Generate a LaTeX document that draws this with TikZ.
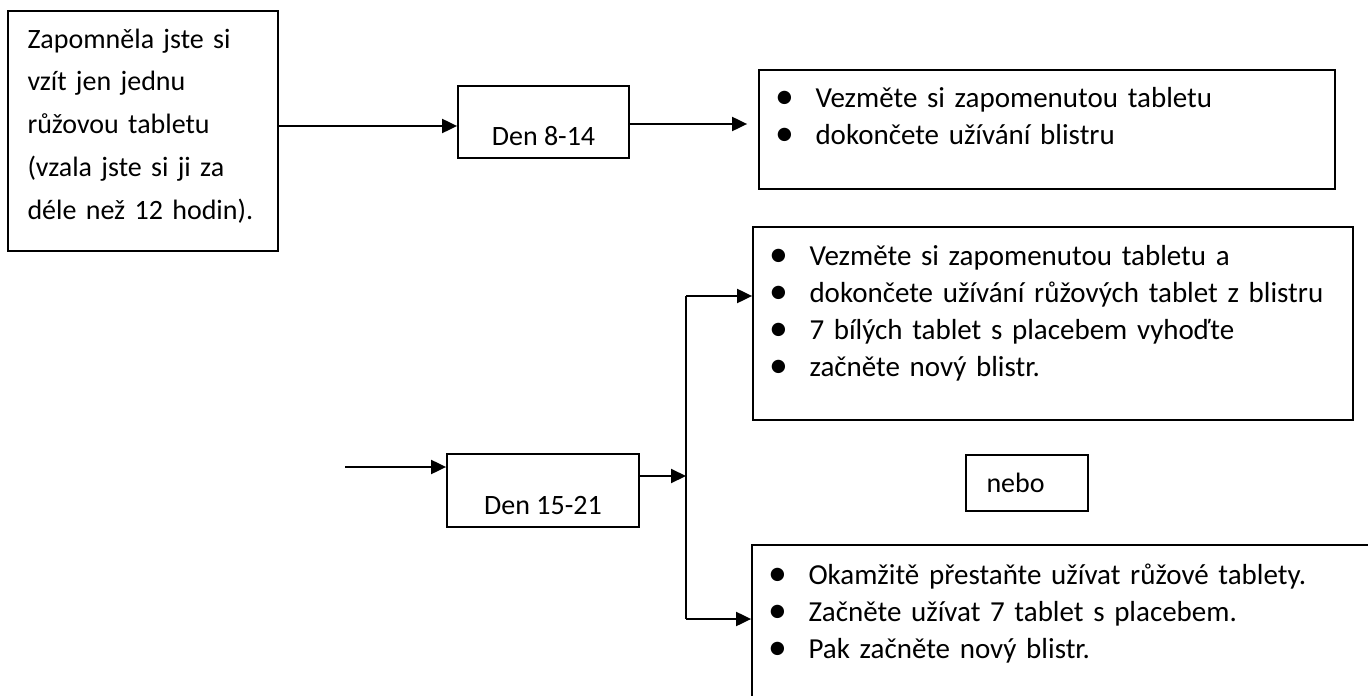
\documentclass[tikz,border=0pt]{standalone}
\usepackage{fontspec}
\setmainfont{Carlito}
\usetikzlibrary{arrows.meta}
\tikzset{
  outline/.style={draw, line width=0.9pt, inner sep=0pt},
  daytext/.style={inner sep=0pt, anchor=base, font=\fontsize{14pt}{18.5pt}\selectfont},
  bodytext/.style={inner sep=0pt, anchor=base west, align=left, text width=#1, font=\fontsize{14.5pt}{18.5pt}\selectfont},
  conn/.style={draw, line width=1pt},
  arr/.style={conn, -{Triangle[length=7.5pt,width=7pt]}},
}
\newcommand{\bul}{\makebox[26pt][c]{\raisebox{-0.6pt}{\scalebox{1.3}{\textbullet}}}\hspace{2.5pt}}

\begin{document}
\begin{tikzpicture}[x=0.5pt,y=-0.5pt]
  \useasboundingbox[fill=white] (0,0) rectangle (1368,695);
  \clip (0,0) rectangle (1368,695);

  % frames
  \node[outline, minimum width=135pt, minimum height=120pt] (zapom) at (143,131) {};
  \node[outline, minimum width=85.5pt, minimum height=36pt] (d1) at (543.5,122) {};
  \node[outline, minimum width=288pt, minimum height=59.5pt] (opt8) at (1047,129.5) {};
  \node[outline, minimum width=96pt, minimum height=36.5pt] (d2) at (543,490.5) {};
  \node[outline, minimum width=300pt, minimum height=96.5pt] (opt15a) at (1053,323.5) {};
  \node[outline, minimum width=61pt, minimum height=28pt] (nebo) at (1027,483) {};
  \node[outline, minimum width=350pt, minimum height=125pt] (opt15b) at (1102,670) {};

  % texts
  \node[bodytext=120pt, font=\fontsize{14pt}{21.4pt}\selectfont] (zapomtxt)
    at ([shift={(10pt,-19pt)}]zapom.north west)
    {Zapomněla jste si\\vzít jen jednu\\růžovou tabletu\\(vzala jste si ji za\\déle než 12 hodin).};
  \node[daytext] (d1txt) at ([yshift=-30pt]d1.north) {Den 8-14};
  \node[daytext] (d2txt) at ([yshift=-30.5pt]d2.north) {Den 15-21};
  \node[bodytext=280pt] (opt8txt) at ([yshift=-19pt]opt8.north west)
    {\bul Vezměte si zapomenutou tabletu\\\bul dokončete užívání blistru};
  \node[bodytext=290pt] (opt15atxt) at ([yshift=-19.5pt]opt15a.north west)
    {\bul Vezměte si zapomenutou tabletu a\\\bul dokončete užívání růžových tablet z blistru\\\bul 7 bílých tablet s placebem vyhoďte\\\bul začněte nový blistr.};
  \node[bodytext=50pt, font=\fontsize{14pt}{18.5pt}\selectfont] (nebotxt)
    at ([shift={(10.5pt,-19pt)}]nebo.north west) {nebo};
  \node[bodytext=300pt] (opt15btxt) at ([yshift=-20pt]opt15b.north west)
    {\bul Okamžitě přestaňte užívat růžové tablety.\\\bul Začněte užívat 7 tablet s placebem.\\\bul Pak začněte nový blistr.};

  % connectors
  \coordinate (in) at (345,467);
  \coordinate (split) at (686,476);
  \coordinate (up) at (686,296);
  \coordinate (down) at (686,619);
  \draw[arr] ([yshift=2.5pt]zapom.east) -- ([yshift=2.5pt]zapom.east -| d1.west);
  \draw[arr, shorten >=5.5pt] ([yshift=-1pt]d1.east) -- ([yshift=-1pt]d1.east -| opt8.west);
  \draw[arr] (in) -- (in -| d2.west);
  \draw[arr] (split -| d2.east) -- (split);
  \draw[conn] (up) -- (down);
  \draw[arr] (up) -- (up -| opt15a.west);
  \draw[arr] (down) -- (down -| opt15b.west);
\end{tikzpicture}
\end{document}
